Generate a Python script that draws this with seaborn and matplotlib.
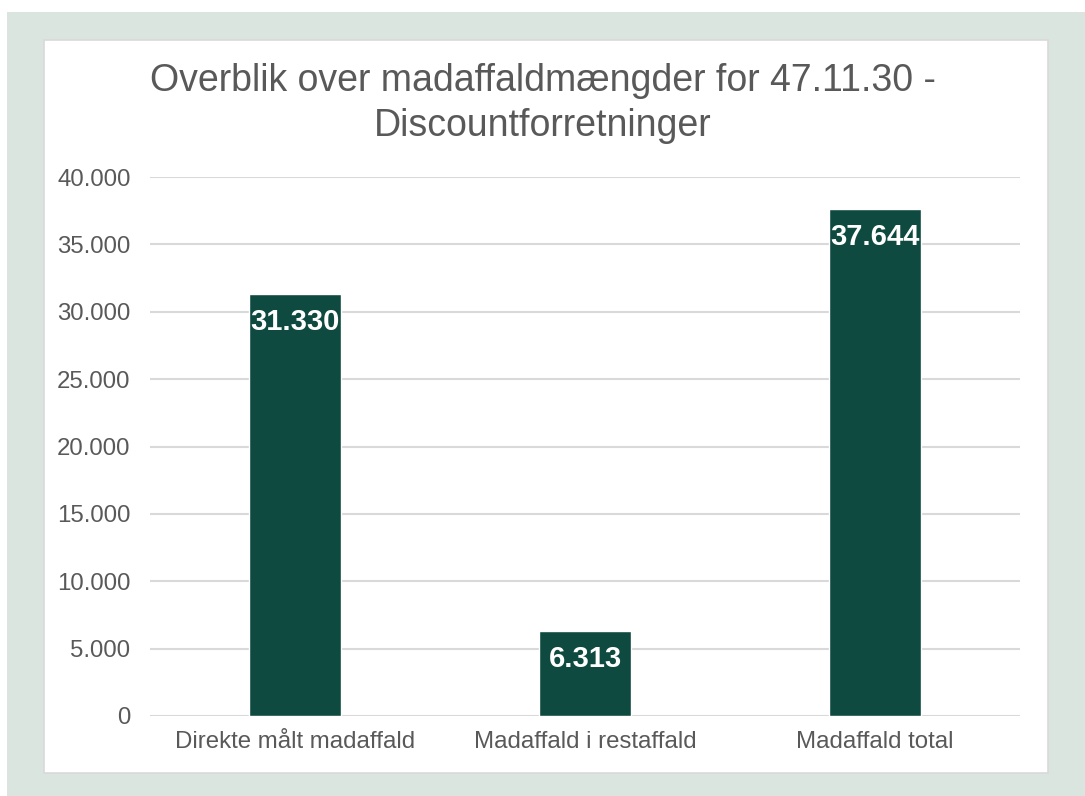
import matplotlib
matplotlib.use("Agg")
import matplotlib.pyplot as plt
import matplotlib.patches as mpatches
import seaborn as sns
import pandas as pd

# data
categories = ["Direkte målt madaffald", "Madaffald i restaffald", "Madaffald total"]
values = [31330, 6313, 37644]
yticks = [0, 5000, 10000, 15000, 20000, 25000, 30000, 35000, 40000]

bar_color = "#0f4a40"
text_color = "#595959"
grid_color = "#d9d9d9"

sns.set_style("white")
plt.rcParams["font.family"] = ["Liberation Sans", "DejaVu Sans"]

df = pd.DataFrame({"kategori": categories, "mængde": values})

fig = plt.figure(figsize=(10.85, 7.96), dpi=100, facecolor="white")

# light green frame and white chart area
fig.patches.append(mpatches.Rectangle((7 / 1085, 0), 1, (796 - 12) / 796,
                                      transform=fig.transFigure, facecolor="#dbe5df",
                                      edgecolor="none", zorder=-2))
fig.patches.append(mpatches.Rectangle((44 / 1085, 1 - 773 / 796), (1048 - 44) / 1085,
                                      (773 - 40) / 796, transform=fig.transFigure,
                                      facecolor="white", edgecolor="#d9d9d9", lw=1.2, zorder=-1))

ax = fig.add_axes([150 / 1085, 1 - 716 / 796, 870 / 1085, (716 - 177) / 796])
ax.set_facecolor("none")

sns.barplot(data=df, x="kategori", y="mængde", color=bar_color, width=0.315,
            saturation=1, ax=ax, zorder=3)

ax.set_ylim(0, 40000)
ax.set_yticks(yticks)
ax.set_yticklabels([f"{t:,}".replace(",", ".") for t in yticks])
ax.set_xlabel("")
ax.set_ylabel("")
ax.yaxis.grid(True, color=grid_color, lw=1.5, zorder=0)
ax.set_axisbelow(True)
for s in ax.spines.values():
    s.set_visible(False)
ax.tick_params(axis="y", length=0, pad=14, labelsize=17.3, labelcolor=text_color)
ax.tick_params(axis="x", length=0, pad=11, labelsize=17.3, labelcolor=text_color)

# value labels inside the top of each bar
for i, v in enumerate(values):
    ax.annotate(f"{v:,}".replace(",", "."), (i, v), xytext=(0, -20),
                textcoords="offset points", ha="center", va="center",
                color="white", fontsize=21, fontweight="bold", zorder=4)

fig.text(0.5, 1 - 81 / 796, "Overblik over madaffaldmængder for 47.11.30 -",
         ha="center", va="center", fontsize=27, color=text_color)
fig.text(0.5, 1 - 126 / 796, "Discountforretninger",
         ha="center", va="center", fontsize=27, color=text_color)

fig.savefig("out.png", dpi=100, facecolor=fig.get_facecolor())
